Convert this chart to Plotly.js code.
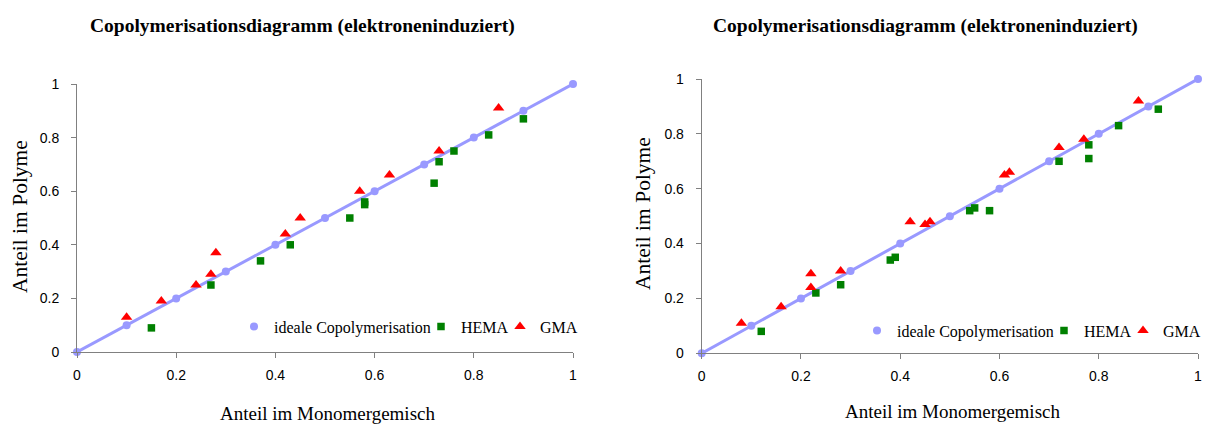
<!DOCTYPE html>
<html><head><meta charset="utf-8">
<script src="https://cdn.plot.ly/plotly-3.0.1.min.js"></script>
<style>html,body{margin:0;padding:0;background:#fff}#c{width:1206px;height:426px}</style>
</head><body><div id="c"></div>
<script>
const idealX = [0,0.1,0.2,0.3,0.4,0.5,0.6,0.7,0.8,0.9,1];
const idealY = [0,0.1,0.2,0.3,0.4,0.5,0.6,0.7,0.8,0.9,1];

const hemaLX = [0.15,0.27,0.37,0.43,0.55,0.58,0.58,0.72,0.73,0.76,0.83,0.90];
const hemaLY = [0.09,0.25,0.34,0.40,0.50,0.55,0.56,0.63,0.71,0.75,0.81,0.87];
const gmaLX = [0.10,0.17,0.24,0.27,0.28,0.42,0.45,0.57,0.63,0.73,0.85];
const gmaLY = [0.13,0.19,0.25,0.29,0.37,0.44,0.50,0.60,0.66,0.75,0.91];

const hemaRX = [0.12,0.23,0.28,0.38,0.39,0.54,0.55,0.58,0.72,0.78,0.78,0.84,0.92];
const hemaRY = [0.08,0.22,0.25,0.34,0.35,0.52,0.53,0.52,0.70,0.76,0.71,0.83,0.89];
const gmaRX = [0.08,0.16,0.22,0.22,0.28,0.42,0.45,0.46,0.61,0.62,0.72,0.77,0.88];
const gmaRY = [0.11,0.17,0.24,0.29,0.30,0.48,0.47,0.48,0.65,0.66,0.75,0.78,0.92];

const titleText = "Copolymerisationsdiagramm (elektroneninduziert)";
const xTitle = "Anteil im Monomergemisch";
const yTitle = "Anteil im Polyme";
const names = ["ideale Copolymerisation","HEMA","GMA"];
const tickVals = [0,0.2,0.4,0.6,0.8,1];
const tickText = ["0","0.2","0.4","0.6","0.8","1"];

const serif = "Liberation Serif, Times New Roman, serif";
const sans = "Liberation Sans, Arial, sans-serif";
const lineC = "#9999ff";

function traces(xa, ya, lg, hx, hy, gx, gy) {
  return [
    {x: idealX, y: idealY, xaxis: xa, yaxis: ya, showlegend: false, mode: "lines",
     line: {color: lineC, width: 3}, cliponaxis: false},
    {x: idealX, y: idealY, xaxis: xa, yaxis: ya, legend: lg, name: names[0], mode: "markers",
     marker: {symbol: "circle", size: 8, color: lineC}, cliponaxis: false, legendwidth: 142},
    {x: hx, y: hy, xaxis: xa, yaxis: ya, legend: lg, name: names[1], mode: "markers",
     marker: {symbol: "square", size: 7.5, color: "#008000"}, cliponaxis: false, legendwidth: 34},
    {x: gx, y: gy, xaxis: xa, yaxis: ya, legend: lg, name: names[2], mode: "markers",
     marker: {symbol: "triangle-up", size: 10, color: "#ff0000"}, cliponaxis: false, legendwidth: 38}
  ];
}

const data = [].concat(
  traces("x", "y", "legend", hemaLX, hemaLY, gmaLX, gmaLY),
  traces("x2", "y2", "legend2", hemaRX, hemaRY, gmaRX, gmaRY)
);

function xax(dom, anchor) {
  return {domain: dom, anchor: anchor, range: [0,1], tickvals: tickVals, ticktext: tickText,
    showgrid: false, zeroline: false, showline: true, linecolor: "#808080", linewidth: 1,
    ticks: "outside", ticklen: 5, tickcolor: "#808080", ticklabelstandoff: 5, automargin: false,
    tickfont: {family: sans, size: 14, color: "#000"}};
}
function yax(dom, anchor) {
  return {domain: dom, anchor: anchor, range: [0,1], tickvals: tickVals, ticktext: tickText,
    showgrid: false, zeroline: false, showline: true, linecolor: "#808080", linewidth: 1,
    ticks: "outside", ticklen: 5, tickcolor: "#808080", ticklabelstandoff: 9, automargin: false,
    tickfont: {family: sans, size: 14, color: "#000"}};
}

const legBase = {orientation: "h", xanchor: "left", yanchor: "middle", bgcolor: "rgba(0,0,0,0)",
  font: {family: serif, size: 16, color: "#000"}, itemwidth: 30, tracegroupgap: 0};

function ann(text, x, y, size, bold, angle) {
  return {text: bold ? "<b>" + text + "</b>" : text, xref: "paper", yref: "paper",
    x: x / 1206, y: (426 - y) / 426, showarrow: false, xanchor: "center", yanchor: "middle",
    textangle: angle || 0, font: {family: serif, size: size, color: "#000"}};
}

const layout = {
  width: 1206, height: 426, margin: {l: 0, r: 0, t: 0, b: 0, autoexpand: false},
  paper_bgcolor: "#fff", plot_bgcolor: "#fff", showlegend: true,
  xaxis: xax([77/1206, 573/1206], "y"),
  yaxis: yax([(426-352)/426, (426-84)/426], "x"),
  xaxis2: xax([701.7/1206, 1198/1206], "y2"),
  yaxis2: yax([(426-353.3)/426, (426-79)/426], "x2"),
  legend: Object.assign({}, legBase, {x: 234/1206, y: (426-326.5)/426}),
  legend2: Object.assign({}, legBase, {x: 857/1206, y: (426-330.5)/426}),
  annotations: [
    ann(titleText, 302, 26, 19.5, true),
    ann(titleText, 925, 26, 19.5, true),
    ann(xTitle, 327, 413, 19),
    ann(xTitle, 952, 411, 19),
    ann(yTitle, 20, 217, 21.5, false, -90),
    ann(yTitle, 643, 214, 21.5, false, -90)
  ]
};

Plotly.newPlot("c", data, layout, {staticPlot: true});
</script></body></html>
